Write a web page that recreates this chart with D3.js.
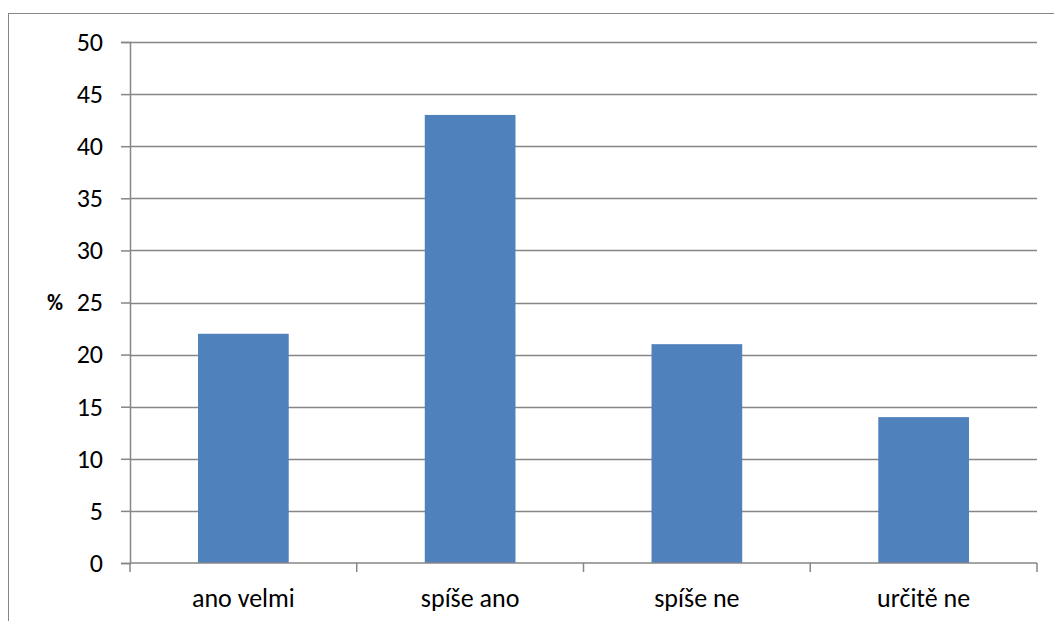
<!DOCTYPE html>
<html>
<head>
<meta charset="utf-8">
<script src="https://cdn.jsdelivr.net/npm/d3@7"></script>
<style>
  html, body { margin: 0; padding: 0; background: #fff; }
  svg { display: block; }
</style>
</head>
<body>
<svg id="chart" width="1054" height="621"></svg>
<script>
// Survey answers and their share in percent
const categories = ["ano velmi", "spíše ano", "spíše ne", "určitě ne"];
const values = [22, 43, 21, 14];
const yTicks = [0, 5, 10, 15, 20, 25, 30, 35, 40, 45, 50];
const yLabel = "%";

(function () {
  const svg = d3.select("#chart");
  const plotLeft = 130, plotRight = 1037, plotTop = 42, plotBottom = 563;
  const gridColor = "#868686";
  const font = "Carlito, 'Liberation Sans', 'DejaVu Sans', sans-serif";
  const fontSize = 26;

  // Chart frame
  svg.append("rect")
    .attr("x", 8.5).attr("y", 13.5)
    .attr("width", 1100).attr("height", 700)
    .attr("fill", "none").attr("stroke", gridColor).attr("stroke-width", 1);

  const x = d3.scaleBand().domain(categories).range([plotLeft, plotRight])
    .paddingInner(0.6).paddingOuter(0.3);
  const y = d3.scaleLinear().domain([0, 50]).range([plotBottom, plotTop]);

  // Horizontal gridlines
  svg.append("g").selectAll("line").data(yTicks.filter(d => d > 0)).join("line")
    .attr("x1", plotLeft).attr("x2", plotRight)
    .attr("y1", d => Math.round(y(d)) + 0.5).attr("y2", d => Math.round(y(d)) + 0.5)
    .attr("stroke", gridColor).attr("stroke-width", 1.5);

  // Bars
  svg.append("g").selectAll("rect").data(values).join("rect")
    .attr("x", (d, i) => x(categories[i]))
    .attr("width", x.bandwidth())
    .attr("y", d => y(d))
    .attr("height", d => y(0) - y(d))
    .attr("fill", "#4F81BD");

  // Y axis
  const yAxis = d3.axisLeft(y).tickValues(yTicks).tickSize(9).tickPadding(18);
  const gy = svg.append("g").attr("transform", `translate(${plotLeft},0)`).call(yAxis);
  gy.select(".domain").attr("stroke", gridColor).attr("stroke-width", 1.5);
  gy.selectAll(".tick line").attr("stroke", gridColor).attr("stroke-width", 1.5);
  gy.selectAll(".tick text").attr("font-family", font).attr("font-size", fontSize).attr("fill", "#000");

  // X axis: ticks sit at category boundaries
  const gx = svg.append("g").attr("transform", `translate(0,${plotBottom})`);
  gx.append("line").attr("x1", plotLeft).attr("x2", plotRight).attr("y1", 0).attr("y2", 0)
    .attr("stroke", gridColor).attr("stroke-width", 1.5);
  const bounds = d3.range(categories.length + 1)
    .map(i => plotLeft + i * (plotRight - plotLeft) / categories.length);
  gx.selectAll("line.tk").data(bounds).join("line").attr("class", "tk")
    .attr("x1", d => d).attr("x2", d => d).attr("y1", 0).attr("y2", 9)
    .attr("stroke", gridColor).attr("stroke-width", 1.5);
  gx.selectAll("text").data(categories).join("text")
    .attr("x", d => x(d) + x.bandwidth() / 2)
    .attr("y", 44)
    .attr("text-anchor", "middle")
    .attr("font-family", font).attr("font-size", fontSize).attr("fill", "#000")
    .text(d => d);

  // Y axis title
  svg.append("text")
    .attr("x", 55).attr("y", y(25))
    .attr("dy", "0.35em")
    .attr("text-anchor", "middle")
    .attr("font-family", font).attr("font-size", 22).attr("font-weight", "bold")
    .text(yLabel);
})();
</script>
</body>
</html>
